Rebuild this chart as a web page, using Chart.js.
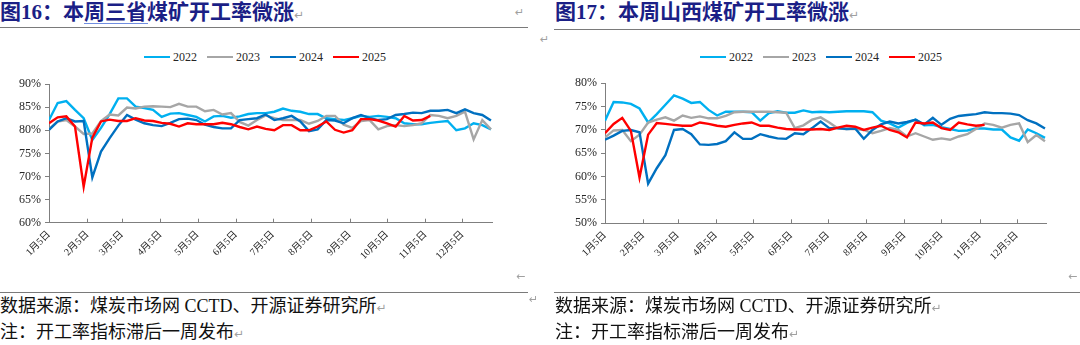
<!DOCTYPE html>
<html><head><meta charset="utf-8">
<script src="https://cdn.jsdelivr.net/npm/chart.js@4.4.1/dist/chart.umd.min.js"></script>
<style>
html,body{margin:0;padding:0;background:#fff;}
body{width:1080px;height:345px;position:relative;overflow:hidden;font-family:"Liberation Serif","Noto Sans CJK SC",serif;}
.t{position:absolute;white-space:nowrap;}
.title{font-size:21px;font-weight:bold;color:#1b1f86;line-height:24px;top:0px;}
.rule{position:absolute;height:0;border-top:1.5px solid #7a7a7a;}
.src{font-size:18px;color:#111;line-height:20px;}
.pm{position:absolute;color:#a0a0a0;font-family:"DejaVu Sans";font-size:11px;line-height:12px;}
.cw{position:absolute;}
.legend{position:absolute;display:flex;font-family:"Liberation Serif";font-size:12px;color:#262626;line-height:14px;}
.legend .it{width:63px;display:flex;align-items:center;}
.legend .ln{display:inline-block;width:26px;height:2.5px;margin-right:3px;}
</style></head>
<body>
<div class="t title" style="left:0px;">图16：本周三省煤矿开工率微涨<span style="color:#a0a0a0;font-weight:normal;font-size:12px;font-family:'DejaVu Sans'">↵</span></div>
<div style="position:absolute;left:84px;top:23px;width:64px;height:0;border-top:1px solid #6f8de0;"></div>
<div class="pm" style="left:515px;top:7px;">↵</div>
<div class="rule" style="left:0;top:27px;width:528px;"></div>

<div class="t title" style="left:555px;">图17：本周山西煤矿开工率微涨<span style="color:#a0a0a0;font-weight:normal;font-size:12px;font-family:'DejaVu Sans'">↵</span></div>
<div class="rule" style="left:554px;top:29px;width:526px;"></div>
<div class="pm" style="left:540px;top:34px;">↵</div>

<div class="legend" id="lg1" style="left:144px;top:50px;"></div>
<div class="legend" id="lg2" style="left:700px;top:50px;"></div>

<div class="cw" style="left:0px;top:70px;width:520px;height:220px;"><canvas id="c1" width="520" height="220"></canvas></div>
<div class="cw" style="left:556px;top:70px;width:520px;height:220px;"><canvas id="c2" width="520" height="220"></canvas></div>

<div class="pm" style="left:516px;top:271px;">←</div>
<div class="pm" style="left:1068px;top:271px;">←</div>

<div class="rule" style="left:0;top:292px;width:528px;"></div>
<div class="rule" style="left:554px;top:292px;width:526px;"></div>
<div class="t src" style="left:0px;top:296px;">数据来源：煤炭市场网 CCTD、开源证券研究所<span style="color:#a0a0a0;font-size:12px;font-family:'DejaVu Sans'">↵</span></div>
<div class="t src" style="left:0px;top:322px;">注：开工率指标滞后一周发布<span style="color:#a0a0a0;font-size:12px;font-family:'DejaVu Sans'">↵</span></div>
<div class="pm" style="left:529px;top:294px;">↵</div>
<div class="t src" style="left:555px;top:296px;">数据来源：煤炭市场网 CCTD、开源证券研究所<span style="color:#a0a0a0;font-size:12px;font-family:'DejaVu Sans'">↵</span></div>
<div class="t src" style="left:555px;top:322px;">注：开工率指标滞后一周发布<span style="color:#a0a0a0;font-size:12px;font-family:'DejaVu Sans'">↵</span></div>

<script>
// ---- data ----
const years = ['2022', '2023', '2024', '2025'];
const tickDays = [0, 31, 59, 90, 120, 151, 181, 212, 243, 273, 304, 334]; // days after Jan 5
const tickLabels = ['1月5日','2月5日','3月5日','4月5日','5月5日','6月5日','7月5日','8月5日','9月5日','10月5日','11月5日','12月5日'];

// 三省煤矿开工率 (%), weekly from Jan 5
const sanxing2022 = [82.2,85.9,86.3,84.4,82.6,77.9,80.5,83.5,86.9,86.9,85.1,84.8,84.4,82.9,83.6,83.7,83.3,82.9,81.9,83.0,83.1,82.7,83.0,83.5,83.7,83.7,84.0,84.7,84.2,84.0,83.5,83.5,82.6,82.4,82.2,82.6,83.1,82.9,83.1,82.9,82.6,81.5,81.3,81.3,81.6,81.8,82.0,80.0,80.4,81.5,81.1,80.2];
const sanxing2023 = [80.2,81.9,82.2,80.8,79.2,79.3,82.0,83.4,83.2,84.9,84.7,85.1,85.2,85.1,85.0,85.7,85.1,85.1,84.1,84.4,83.4,83.7,81.8,81.0,82.2,83.2,82.6,82.2,82.2,82.2,81.4,82.0,83.1,83.1,81.2,80.5,82.0,82.2,80.2,80.9,81.1,80.9,81.1,81.5,83.3,83.1,82.6,83.1,84.0,78.0,82.2,80.2];
const sanxing2024 = [80.1,81.9,82.6,81.9,82.0,69.8,75.4,78.3,81.0,83.3,82.3,81.5,81.1,80.9,81.6,82.4,82.5,82.2,81.2,80.7,80.4,80.4,82.2,82.4,82.6,83.4,82.2,82.6,83.1,81.9,79.8,80.2,82.2,82.1,81.5,82.6,83.3,82.6,82.2,82.4,83.3,83.5,83.8,83.7,84.2,84.2,84.4,83.7,84.5,83.7,83.3,82.1];
const sanxing2025 = [81.5,82.8,83.0,80.8,67.8,78.4,81.9,82.3,82.0,82.0,82.6,82.1,82.0,81.6,81.4,80.8,81.5,81.3,81.3,81.3,81.6,81.3,80.7,80.2,80.8,80.3,80.0,81.1,81.1,80.0,80.0,80.8,81.9,80.1,79.5,80.0,82.4,82.4,82.1,81.5,80.8,83.1,82.1,82.2,83.1];

// 山西煤矿开工率 (%), weekly from Jan 5
const shanxi2022 = [72.0,76.0,75.9,75.6,74.6,71.6,73.4,75.4,77.4,76.7,75.8,76.0,74.3,73.1,73.9,73.9,73.9,73.8,72.0,73.6,74.0,73.7,73.7,74.2,73.8,73.9,73.8,73.9,74.0,74.0,74.0,73.8,72.0,71.4,70.5,71.5,72.2,71.0,71.1,70.6,70.2,69.8,69.9,70.3,70.3,70.1,70.1,68.4,67.7,70.1,69.3,68.3];
const shanxi2023 = [68.4,69.9,70.0,67.6,69.0,71.6,72.2,72.7,72.0,73.1,72.6,72.9,72.5,72.5,73.0,73.8,73.9,73.9,73.9,73.9,73.8,73.7,70.4,71.0,72.2,72.7,71.6,70.3,70.2,70.2,70.0,69.3,69.8,70.4,70.0,68.6,69.3,68.6,67.9,68.2,67.9,68.6,69.1,70.2,71.4,71.1,70.5,71.1,71.4,67.4,68.9,67.6];
const shanxi2024 = [67.9,68.8,69.8,70.0,69.5,58.5,61.8,64.6,70.0,70.2,69.1,66.9,66.8,67.0,67.6,69.5,68.1,68.1,69.1,68.6,68.2,68.1,69.3,69.1,70.4,71.8,70.4,70.4,70.2,70.3,68.1,70.0,71.2,71.8,71.4,71.7,72.2,71.2,72.6,71.1,72.4,73.0,73.2,73.4,73.8,73.6,73.6,73.5,73.2,72.1,71.4,70.3];
const shanxi2025 = [69.3,71.3,72.6,69.8,59.8,69.0,71.5,71.3,71.1,70.9,70.9,71.6,71.3,70.9,70.7,71.1,71.4,71.6,70.9,70.9,70.5,70.2,70.1,70.1,70.1,70.2,70.0,70.5,70.9,70.7,70.0,70.5,70.9,70.0,69.5,68.4,71.6,71.4,71.6,70.4,70.0,71.6,71.2,70.9,71.1];

// ---- styles ----
const colors = ['#00B0F0', '#A6A6A6', '#0070C0', '#FF0000'];
const axisColor = '#7f7f7f';
const textColor = '#262626';

function buildLegend(id) {
  const el = document.getElementById(id);
  years.forEach((y, i) => {
    const it = document.createElement('div');
    it.className = 'it';
    it.innerHTML = '<span class="ln" style="background:' + colors[i] + '"></span><span>' + y + '</span>';
    el.appendChild(it);
  });
}
buildLegend('lg1');
buildLegend('lg2');

const innerTicks = {
  id: 'innerTicks',
  afterDraw(chart) {
    const s = chart.scales.x, ctx = chart.ctx;
    ctx.save();
    ctx.strokeStyle = axisColor;
    ctx.lineWidth = 1;
    s.ticks.forEach(t => {
      const px = Math.round(s.getPixelForValue(t.value)) + 0.5;
      ctx.beginPath();
      ctx.moveTo(px, s.top);
      ctx.lineTo(px, s.top - 4);
      ctx.stroke();
    });
    ctx.restore();
  }
};

function makeChart(id, series, yMin, yMax, pad) {
  const datasets = series.map((arr, i) => ({
    label: years[i],
    data: arr.map((v, k) => ({ x: k, y: v })),
    borderColor: colors[i],
    backgroundColor: colors[i],
    borderWidth: 2.4,
    pointRadius: 0,
    tension: 0,
    fill: false,
    order: series.length - i
  }));
  return new Chart(document.getElementById(id), {
    type: 'line',
    data: { datasets },
    plugins: [innerTicks],
    options: {
      responsive: false,
      animation: false,
      devicePixelRatio: 1,
      layout: { padding: { left: 0, right: pad.right, top: pad.top, bottom: 0 } },
      plugins: { legend: { display: false }, tooltip: { enabled: false } },
      scales: {
        x: {
          type: 'linear',
          min: 0,
          max: 51.2,
          afterBuildTicks: (s) => { s.ticks = tickDays.map(d => ({ value: d / 7 })); },
          afterFit: (s) => { s.height = pad.xh; },
          grid: { display: false, drawTicks: false },
          border: { display: true, color: axisColor, width: 1 },
          ticks: {
            autoSkip: false,
            minRotation: 45,
            maxRotation: 45,
            padding: 6,
            color: textColor,
            font: { family: '"Liberation Serif","Noto Sans CJK SC"', size: 10 },
            callback: (v, i) => tickLabels[i]
          }
        },
        y: {
          min: yMin,
          max: yMax,
          afterFit: (s) => { s.width = 49; },
          grid: { drawOnChartArea: false, drawTicks: true, tickLength: 4, color: axisColor },
          border: { display: true, color: axisColor, width: 1 },
          ticks: {
            stepSize: 5,
            padding: 4,
            color: textColor,
            font: { family: '"Liberation Serif"', size: 12 },
            callback: (v) => v + '%'
          }
        }
      }
    }
  });
}

makeChart('c1', [sanxing2022, sanxing2023, sanxing2024, sanxing2025], 60, 90, { right: 27.3, top: 14, xh: 67.3 });
makeChart('c2', [shanxi2022, shanxi2023, shanxi2024, shanxi2025], 50, 80, { right: 29.3, top: 13.3, xh: 66.7 });
</script>
</body></html>
